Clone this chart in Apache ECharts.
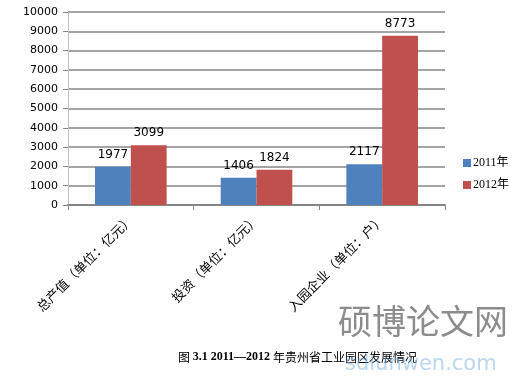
<!DOCTYPE html>
<html><head><meta charset="utf-8">
<script src="https://cdn.jsdelivr.net/npm/echarts@6/dist/echarts.min.js"></script>
<style>html,body{margin:0;padding:0;background:#fff}#c{width:527px;height:381px}</style>
</head><body><div id="c"></div>
<script>
const categories = ['总产值（单位：亿元）', '投资（单位：亿元）', '入园企业（单位：户）'];
const series2011 = [1977, 1406, 2117];
const series2012 = [3099, 1824, 8773];
const seriesNames = ['2011年', '2012年'];
const yTicks = [0, 1000, 2000, 3000, 4000, 5000, 6000, 7000, 8000, 9000, 10000];

const chart = echarts.init(document.getElementById('c'));
const numFont = '"DejaVu Sans", Verdana, sans-serif';
const cjkFont = '"Noto Sans CJK SC", "Noto Sans CJK JP", sans-serif';
chart.setOption({
  animation: false,
  grid: {left: 68, right: 82, top: 12, bottom: 176},
  legend: {
    orient: 'vertical', left: 458, top: 152, itemWidth: 8, itemHeight: 8, itemGap: 10,
    icon: 'rect', data: seriesNames,
    textStyle: {fontSize: 12, color: '#000', fontFamily: '"Liberation Serif", "Noto Sans CJK SC"', padding: [0,0,0,-3]}
  },
  xAxis: {
    type: 'category', data: categories,
    axisLine: {lineStyle: {color: '#868686', width: 2}},
    axisTick: {show: true, length: 5, lineStyle: {color: '#868686'}},
    axisLabel: {rotate: 45, fontSize: 13, color: '#000', margin: 12, fontFamily: cjkFont, interval: 0}
  },
  yAxis: {
    type: 'value', min: yTicks[0], max: yTicks[yTicks.length-1], interval: 1000,
    axisLine: {show: true, lineStyle: {color: '#c0c0c0', width: 1}},
    axisTick: {show: true, length: 5, lineStyle: {color: '#868686'}},
    splitLine: {lineStyle: {color: '#868686', width: 1.5}},
    axisLabel: {fontSize: 11, color: '#000', margin: 10, fontFamily: numFont, formatter: v => String(v)}
  },
  series: [
    {name: seriesNames[0], type: 'bar', data: series2011, barGap: '0%', barCategoryGap: '43%',
     itemStyle: {color: '#4f81bd'},
     label: {show: true, position: 'top', color: '#000', fontSize: 12, fontFamily: numFont, distance: 6}},
    {name: seriesNames[1], type: 'bar', data: series2012,
     itemStyle: {color: '#c0504d'},
     label: {show: true, position: 'top', color: '#000', fontSize: 12, fontFamily: numFont, distance: 6}}
  ],
  graphic: [
    {type: 'text', left: 178, top: 351, style: {
      text: '{a|图 }{b|3.1 2011—2012 }{a|年贵州省工业园区发展情况}',
      rich: {
        a: {fontSize: 12, fontFamily: cjkFont, fill: '#000'},
        b: {fontSize: 12, fontWeight: 'bold', fontFamily: '"Liberation Serif"', fill: '#000'}
      }}},
    {type: 'text', left: 338, top: 304, style: {
      text: '硕博论文网', fontSize: 34, fontFamily: cjkFont, fill: 'rgba(120,120,120,0.85)'}},
    {type: 'text', left: 345, top: 354, style: {
      text: 'sdlunwen.com', fontSize: 21, fontFamily: numFont, fill: 'rgba(120,175,225,0.5)'}}
  ]
});
</script></body></html>
